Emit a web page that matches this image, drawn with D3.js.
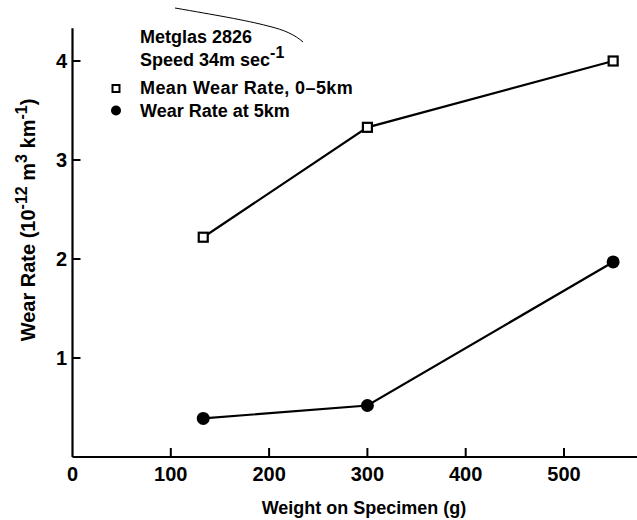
<!DOCTYPE html>
<html>
<head>
<meta charset="utf-8">
<script src="https://cdn.jsdelivr.net/npm/d3@7"></script>
<style>
  body { margin: 0; background: #fff; }
  text { font-family: "Liberation Sans", Arial, sans-serif; font-weight: bold; fill: #000; }
</style>
</head>
<body>
<div id="chart-area"></div>
<script>
// data
var weights = [133, 300, 550];
var meanWearRate = [2.22, 3.33, 4.0];   // mean wear rate, 0-5 km
var wearRateAt5km = [0.39, 0.52, 1.97]; // wear rate at 5 km
var xTicks = [0, 100, 200, 300, 400, 500];
var yTicks = [1, 2, 3, 4];

var svg = d3.select("#chart-area").append("svg")
    .attr("width", 637)
    .attr("height", 520);

// scales: 0 g at x=72.5, 500 g at x=564 ; 0 at y=457, 4 at y=61
var x = d3.scaleLinear().domain([0, 500]).range([72.5, 564]);
var y = d3.scaleLinear().domain([0, 4]).range([457, 61]);

// axes lines
svg.append("line")
    .attr("x1", x(0)).attr("x2", 637)
    .attr("y1", y(0)).attr("y2", y(0))
    .attr("stroke", "#000").attr("stroke-width", 2.2);
svg.append("line")
    .attr("x1", x(0)).attr("x2", x(0))
    .attr("y1", y(0)).attr("y2", y(4.33))
    .attr("stroke", "#000").attr("stroke-width", 2.2);

// x ticks (pointing inward)
svg.selectAll(".xtick")
    .data(xTicks.filter(d => d > 0))
    .enter().append("line")
    .attr("x1", d => x(d)).attr("x2", d => x(d))
    .attr("y1", y(0)).attr("y2", y(0) - 9)
    .attr("stroke", "#000").attr("stroke-width", 2);
svg.selectAll(".xlab")
    .data(xTicks)
    .enter().append("text")
    .attr("x", d => x(d))
    .attr("y", 481)
    .attr("text-anchor", "middle")
    .attr("font-size", "20px")
    .text(d => d);

// y ticks
svg.selectAll(".ytick")
    .data(yTicks)
    .enter().append("line")
    .attr("x1", x(0)).attr("x2", x(0) + 8)
    .attr("y1", d => y(d)).attr("y2", d => y(d))
    .attr("stroke", "#000").attr("stroke-width", 2);
svg.selectAll(".ylab")
    .data(yTicks)
    .enter().append("text")
    .attr("x", 67)
    .attr("y", d => y(d) + 7)
    .attr("text-anchor", "end")
    .attr("font-size", "20px")
    .text(d => d);

// axis titles
svg.append("text")
    .attr("x", 364)
    .attr("y", 514)
    .attr("text-anchor", "middle")
    .attr("font-size", "18px")
    .text("Weight on Specimen (g)");

var yt = svg.append("text")
    .attr("transform", "translate(35,220) rotate(-90)")
    .attr("text-anchor", "middle")
    .attr("font-size", "20px");
yt.append("tspan").text("Wear Rate (10");
yt.append("tspan").attr("dy", -8).attr("font-size", "16px").text("-12");
yt.append("tspan").attr("dy", 8).text(" m");
yt.append("tspan").attr("dy", -8).attr("font-size", "16px").text("3");
yt.append("tspan").attr("dy", 8).text(" km");
yt.append("tspan").attr("dy", -8).attr("font-size", "16px").text("-1");
yt.append("tspan").attr("dy", 8).text(")");

// series lines
var line = d3.line().x(d => x(d[0])).y(d => y(d[1]));
var meanPts = weights.map((w, i) => [w, meanWearRate[i]]);
var at5Pts = weights.map((w, i) => [w, wearRateAt5km[i]]);

svg.append("path").datum(meanPts)
    .attr("d", line).attr("fill", "none")
    .attr("stroke", "#000").attr("stroke-width", 2.2);
svg.append("path").datum(at5Pts)
    .attr("d", line).attr("fill", "none")
    .attr("stroke", "#000").attr("stroke-width", 2.2);

svg.selectAll(".sq")
    .data(meanPts)
    .enter().append("rect")
    .attr("x", d => x(d[0]) - 4.5)
    .attr("y", d => y(d[1]) - 4.5)
    .attr("width", 9).attr("height", 9)
    .attr("fill", "#fff")
    .attr("stroke", "#000").attr("stroke-width", 2.2);
svg.selectAll(".dot")
    .data(at5Pts)
    .enter().append("circle")
    .attr("cx", d => x(d[0]))
    .attr("cy", d => y(d[1]))
    .attr("r", 6.5)
    .attr("fill", "#000");

// legend / annotation
svg.append("text").attr("x", 140).attr("y", 43)
    .attr("font-size", "18px").text("Metglas 2826");
var sp = svg.append("text").attr("x", 140).attr("y", 66).attr("font-size", "18px");
sp.append("tspan").text("Speed 34m sec");
sp.append("tspan").attr("dy", -8).attr("font-size", "16px").text("-1");

svg.append("rect")
    .attr("x", 112.5).attr("y", 85)
    .attr("width", 7).attr("height", 7)
    .attr("fill", "#fff").attr("stroke", "#000").attr("stroke-width", 2);
svg.append("text").attr("x", 140).attr("y", 93.5)
    .attr("font-size", "18px").attr("letter-spacing", "0.4px")
    .text("Mean Wear Rate, 0\u20135km");

svg.append("circle")
    .attr("cx", 116).attr("cy", 110.5).attr("r", 5)
    .attr("fill", "#000");
svg.append("text").attr("x", 140).attr("y", 117)
    .attr("font-size", "18px").text("Wear Rate at 5km");

// stray pen mark at the top of the scan
svg.append("path")
    .attr("d", "M175,8 C215,15 245,20 268,26 C285,30 295,35 303,42")
    .attr("fill", "none").attr("stroke", "#000").attr("stroke-width", 1);
</script>
</body>
</html>
